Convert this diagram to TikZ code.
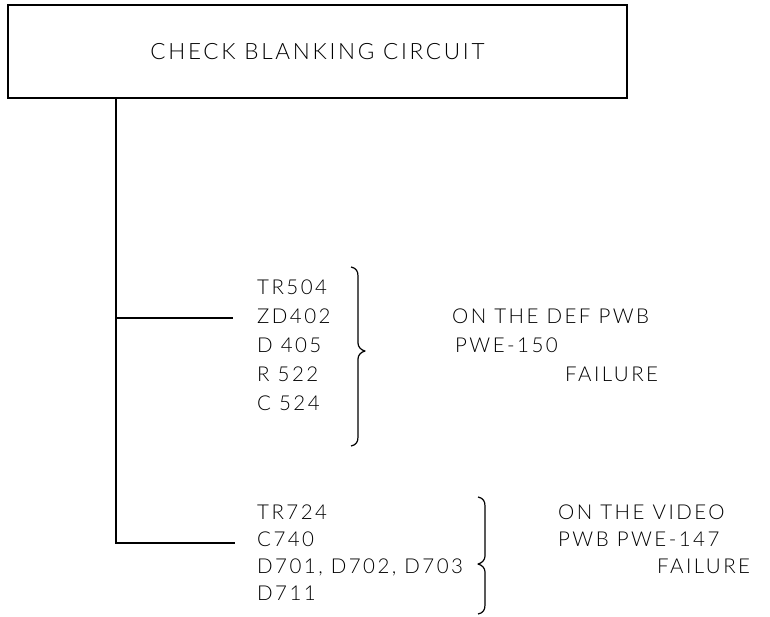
\documentclass[tikz,border=0pt]{standalone}
\usepackage{fontspec}
\setmainfont{Lato Light}[LetterSpace=12]
\begin{document}
\begin{tikzpicture}[x=1pt,y=-1pt,
  lbl/.style={anchor=west,inner sep=0pt,text height=14pt,text depth=0pt,font=\fontsize{20.5}{24}\selectfont},
  wire/.style={line width=1.3pt},
  bracepath/.style={line width=1.2pt,line join=round}]
\useasboundingbox (0,0) rectangle (770,616);
\node[draw,line width=1.6pt,minimum width=619pt,minimum height=93pt,inner sep=0pt,
  font=\fontsize{22.5}{28}\selectfont] (box) at (317.5,51.5) {CHECK BLANKING CIRCUIT};
% group 1
\node[lbl] (a1) at (257,287) {TR504};
\node[lbl] (a2) at (257,316) {ZD402};
\node[lbl] (a3) at (257,345) {D 405};
\node[lbl] (a4) at (257,374) {R 522};
\node[lbl] (a5) at (257,403) {C 524};
\node[lbl] (r1) at (452,316) {ON THE DEF PWB};
\node[lbl] (r2) at (455,345) {PWE-150};
\node[lbl] (r3) at (565,374) {FAILURE};
% group 2
\node[lbl] (b1) at (257,512) {TR724};
\node[lbl] (b2) at (257,539) {C740};
\node[lbl] (b3) at (257,566) {D701, D702, D703};
\node[lbl] (b4) at (257,593) {D711};
\node[lbl] (s1) at (558,512) {ON THE VIDEO};
\node[lbl] (s2) at (558,539) {PWB PWE-147};
\node[lbl] (s3) at (657,566) {FAILURE};
% connectors
\coordinate (top) at (116,98);
\coordinate (j1) at (116,318);
\coordinate (e1) at (233,318);
\coordinate (j2) at (116,543);
\coordinate (e2) at (235,543);
\draw[wire] (top) -- (j2) -- (e2);
\draw[wire] (j1) -- (e1);
% brace 1 (tip right)
\draw[bracepath] (351,267) .. controls (356,268) and (358,271) .. (358,276)
  -- (358,343) .. controls (358,347) and (361,350) .. (365,351)
  .. controls (361,352) and (358,355) .. (358,359)
  -- (358,437) .. controls (358,442) and (356,445) .. (351,446);
% brace 2 (hooks curl left, tip left)
\draw[bracepath] (478,497) .. controls (483,498) and (485,501) .. (485,506)
  -- (485,556) .. controls (485,560) and (482,563) .. (478,564)
  .. controls (482,565) and (485,568) .. (485,572)
  -- (485,605) .. controls (485,610) and (483,613) .. (478,614);
\end{tikzpicture}
\end{document}
